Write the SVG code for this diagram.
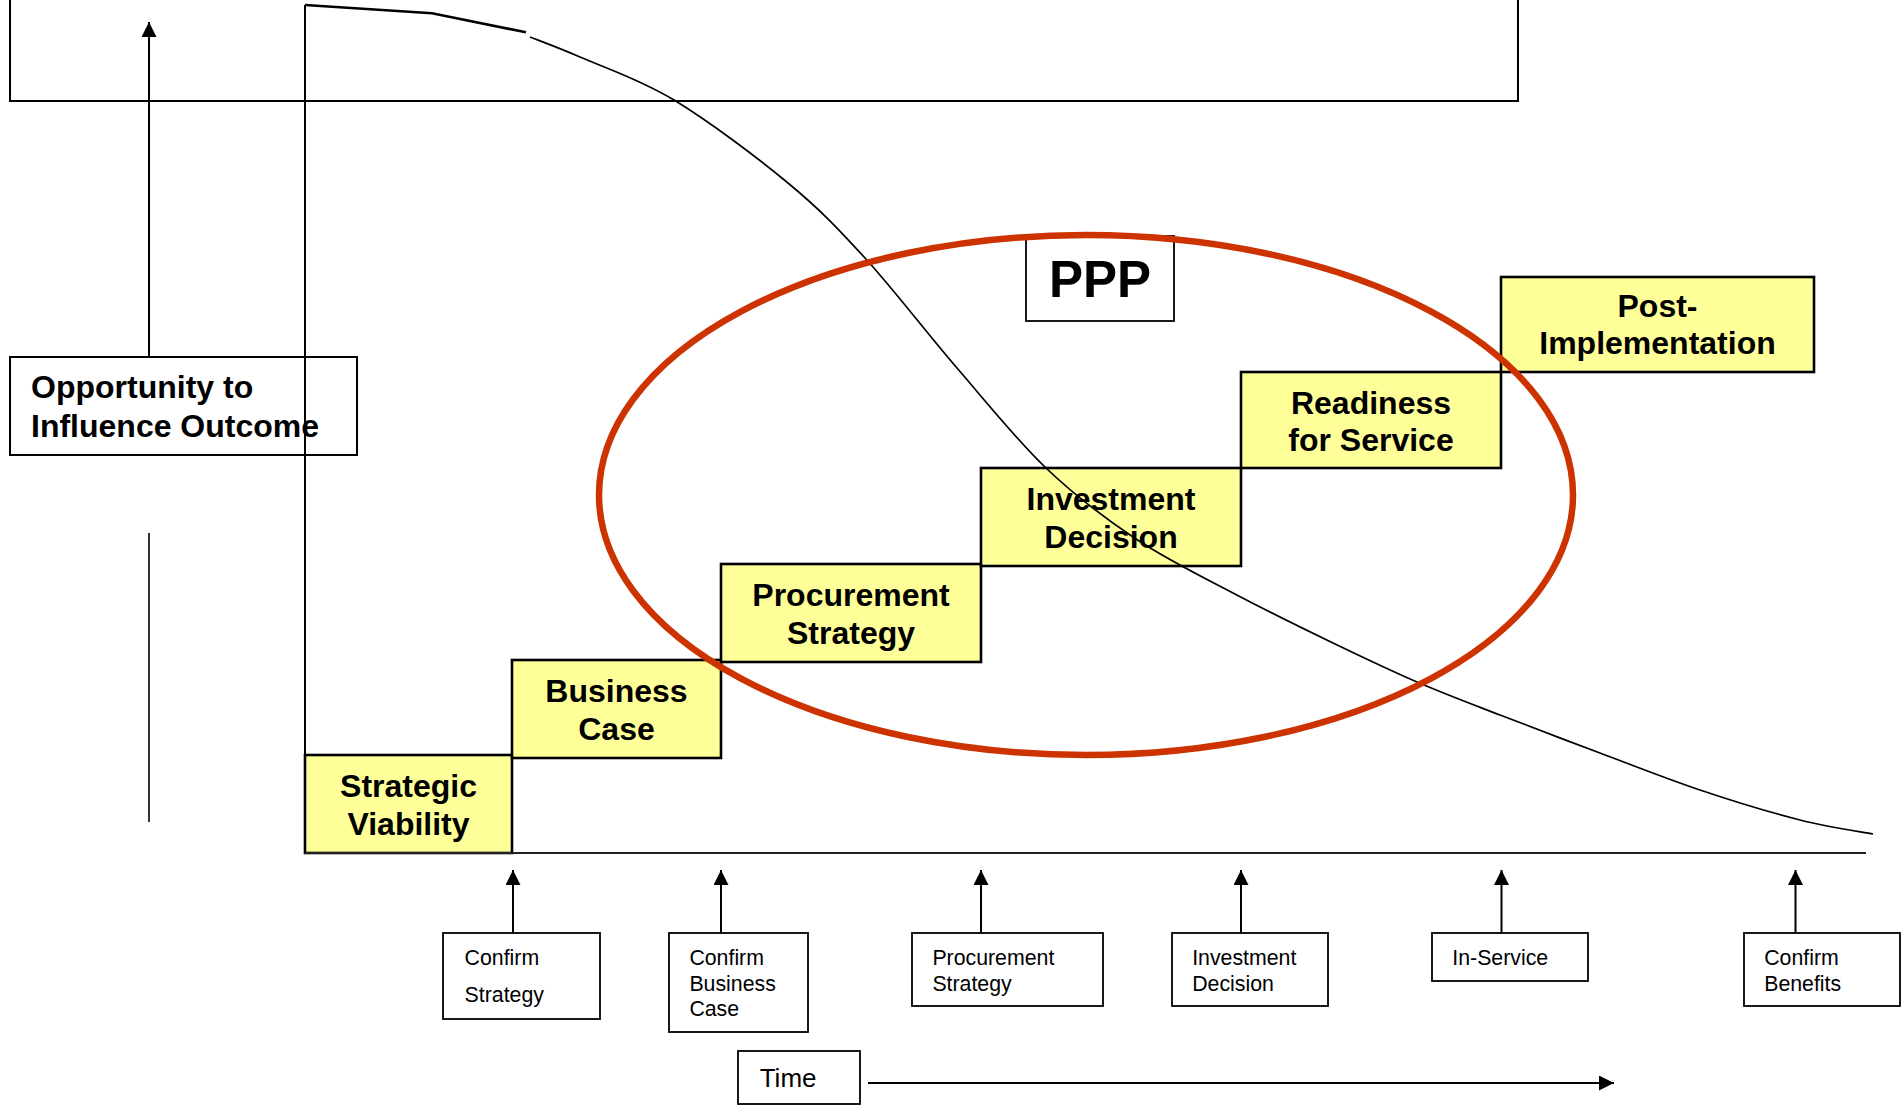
<svg xmlns="http://www.w3.org/2000/svg" width="1903" height="1112" viewBox="0 0 1903 1112">
<defs>
<style>
.ln{stroke:#000;fill:none;stroke-width:2}
.stage{fill:#FFFF99;stroke:#000;stroke-width:2.6}
.stt{font-family:"Liberation Sans",Arial,sans-serif;font-weight:bold;font-size:32px;text-anchor:middle;fill:#000}
.mb{fill:#fff;stroke:#000;stroke-width:1.8}
.mbt{font-family:"Liberation Sans",Arial,sans-serif;font-size:21.3px;fill:#000}
.bigt{font-family:"Liberation Sans",Arial,sans-serif;font-weight:bold;fill:#000}
</style>
<marker id="ah" viewBox="0 0 10 10" refX="10" refY="5" markerWidth="15" markerHeight="15" markerUnits="userSpaceOnUse" orient="auto">
<path d="M0,0 L10,5 L0,10 Z" fill="#000"/>
</marker>
</defs>
<rect width="1903" height="1112" fill="#fff"/>

<g id="frame">
<path class="ln" d="M10,-2 V101 H1518 V-2"/>
</g>

<g id="opportunity">
<rect x="10" y="357" width="347" height="98" fill="#fff" stroke="#000" stroke-width="2"/>
<text class="bigt" font-size="32" x="31" y="398">Opportunity to</text>
<text class="bigt" font-size="32" x="31" y="437">Influence Outcome</text>
</g>

<g id="stages">
<g id="strategic-viability"><rect class="stage" x="305" y="755" width="207" height="98"/><text class="stt" x="408.5" y="797">Strategic</text><text class="stt" x="408.5" y="835">Viability</text></g>
<g id="business-case"><rect class="stage" x="512" y="660" width="209" height="98"/><text class="stt" x="616.5" y="702">Business</text><text class="stt" x="616.5" y="740">Case</text></g>
<g id="procurement-strategy"><rect class="stage" x="721" y="564" width="260" height="98"/><text class="stt" x="851" y="606">Procurement</text><text class="stt" x="851" y="644">Strategy</text></g>
<g id="investment-decision"><rect class="stage" x="981" y="468" width="260" height="98"/><text class="stt" x="1111" y="510">Investment</text><text class="stt" x="1111" y="548">Decision</text></g>
<g id="readiness-for-service"><rect class="stage" x="1241" y="372" width="260" height="96"/><text class="stt" x="1371" y="414">Readiness</text><text class="stt" x="1371" y="451">for Service</text></g>
<g id="post-implementation"><rect class="stage" x="1501" y="277" width="313" height="95"/><text class="stt" x="1657.5" y="317">Post-</text><text class="stt" x="1657.5" y="354">Implementation</text></g>
</g>

<g id="ppp">
<rect x="1026" y="236" width="148" height="85" fill="#fff" stroke="#000" stroke-width="1.8"/>
<text class="bigt" font-size="51" x="1100" y="297" text-anchor="middle">PPP</text>
</g>

<g id="milestones">
<g id="m-confirm-strategy"><rect class="mb" x="443" y="933" width="157" height="86"/><text class="mbt" x="464.6" y="965">Confirm</text><text class="mbt" x="464.6" y="1002">Strategy</text></g>
<g id="m-confirm-business-case"><rect class="mb" x="669" y="933" width="139" height="99"/><text class="mbt" x="689.4" y="965">Confirm</text><text class="mbt" x="689.4" y="990.5">Business</text><text class="mbt" x="689.4" y="1015.5">Case</text></g>
<g id="m-procurement-strategy"><rect class="mb" x="912" y="933" width="191" height="73"/><text class="mbt" x="932.4" y="965">Procurement</text><text class="mbt" x="932.4" y="990.5">Strategy</text></g>
<g id="m-investment-decision"><rect class="mb" x="1172" y="933" width="156" height="73"/><text class="mbt" x="1192.2" y="965">Investment</text><text class="mbt" x="1192.2" y="990.5">Decision</text></g>
<g id="m-in-service"><rect class="mb" x="1432" y="933" width="156" height="48"/><text class="mbt" x="1452.3" y="965">In-Service</text></g>
<g id="m-confirm-benefits"><rect class="mb" x="1744" y="933" width="156" height="73"/><text class="mbt" x="1764.2" y="965">Confirm</text><text class="mbt" x="1764.2" y="990.5">Benefits</text></g>
</g>

<g id="time">
<rect class="mb" x="738" y="1051" width="122" height="53"/>
<text class="mbt" x="759.7" y="1087" style="font-size:26px">Time</text>
</g>

<g id="connectors">
<line class="ln" x1="305" y1="5" x2="305" y2="853"/>
<line x1="305" y1="853" x2="1866" y2="853" stroke="#222" stroke-width="2.2"/>
<line class="ln" x1="149" y1="357" x2="149" y2="22" marker-end="url(#ah)" stroke-width="1.8"/>
<line x1="149" y1="533" x2="149" y2="822" stroke="#000" stroke-width="1.6"/>
<polyline points="305,5 432,13.3 526,32.3" fill="none" stroke="#000" stroke-width="2.6"/>
<path fill="none" stroke="#000" stroke-width="1.7" d="M530,37 C538.3,40.3 556,46.5 580,57 C604,67.5 639.3,79 674,100 C708.7,121 756.2,156.7 788,183 C819.8,209.3 836.8,227.2 865,258 C893.2,288.8 926.8,333 957,368 C987.2,403 1016.2,439.5 1046,468 C1075.8,496.5 1104.8,518.2 1136,539 C1167.2,559.8 1200.2,575.7 1233,593 C1265.8,610.3 1302.3,628.2 1333,643 C1363.7,657.8 1389.2,670 1417,682 C1444.8,694 1469.5,703.2 1500,715 C1530.5,726.8 1566.7,740.5 1600,753 C1633.3,765.5 1666.7,778.8 1700,790 C1733.3,801.2 1771.2,812.7 1800,820 C1828.8,827.3 1860.8,831.7 1873,834"/>
<line class="ln" x1="513" y1="933" x2="513" y2="870" marker-end="url(#ah)"/>
<line class="ln" x1="721" y1="933" x2="721" y2="870" marker-end="url(#ah)"/>
<line class="ln" x1="981" y1="933" x2="981" y2="870" marker-end="url(#ah)"/>
<line class="ln" x1="1241" y1="933" x2="1241" y2="870" marker-end="url(#ah)"/>
<line class="ln" x1="1501.5" y1="933" x2="1501.5" y2="870" marker-end="url(#ah)"/>
<line class="ln" x1="1795.5" y1="933" x2="1795.5" y2="870" marker-end="url(#ah)"/>
<line class="ln" x1="868" y1="1083" x2="1614" y2="1083" marker-end="url(#ah)"/>
</g>

<g id="ppp-ellipse">
<ellipse cx="1086" cy="495" rx="487" ry="260" fill="none" stroke="#CC3300" stroke-width="6.5"/>
</g>
</svg>
